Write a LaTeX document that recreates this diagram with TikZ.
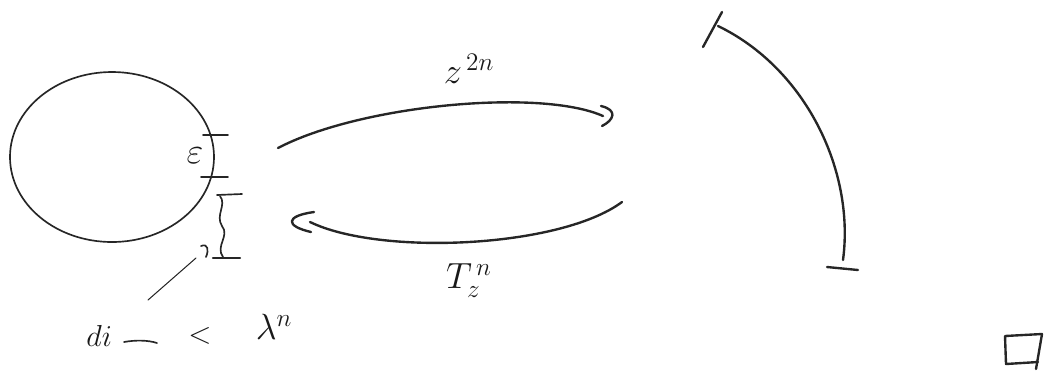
\documentclass[tikz,border=0pt]{standalone}
\begin{document}
\begin{tikzpicture}[x=0.02cm,y=-0.02cm,line cap=round,line join=round,
  pen/.style={line width=0.95pt,draw=black!85},
  thickpen/.style={line width=1.35pt,draw=black!85},
  lbl/.style={inner sep=0pt,text=black!90},
  big/.style={lbl,font=\fontsize{20.74}{25}\selectfont},
  mid/.style={lbl,font=\fontsize{17.28}{21}\selectfont}]
\useasboundingbox (0,0) rectangle (1047,370);
% blob
\draw[pen] (112,157) ellipse [x radius=102, y radius=85];
% epsilon bracket
\coordinate (e1a) at (203,135); \coordinate (e1b) at (228,135);
\coordinate (e2a) at (201,177); \coordinate (e2b) at (228,177);
\draw[pen] (e1a) -- (e1b);
\draw[pen] (e2a) -- (e2b);
\node[big] (eps) at (195,156) {$\varepsilon$};
% wavy bracket
\coordinate (w1a) at (217,195); \coordinate (w1b) at (242,194);
\coordinate (w2a) at (213,258); \coordinate (w2b) at (240,258);
\coordinate (wt) at (220,196); \coordinate (wm) at (222,226); \coordinate (wb) at (223,257);
\draw[pen] (w1a) -- (w1b);
\draw[thickpen] (w2a) -- (w2b);
\draw[pen] (wt) .. controls (227,205) and (215,215) .. (wm) .. controls (230,236) and (215,246) .. (wb);
% small mark
\coordinate (ma) at (201,246); \coordinate (mb) at (206,257);
\draw[pen] (ma) .. controls (208,243) and (209,250) .. (mb);
% leader line
\coordinate (la) at (148,300); \coordinate (lb) at (196,258);
\draw[pen,line width=0.6pt] (la) -- (lb);
% bottom formula
\node[mid,anchor=west] (di) at (86,336) {$di$};
\coordinate (da) at (124,342); \coordinate (db) at (157,343);
\draw[pen] (da) .. controls (135,340) and (148,340) .. (db);
\node[mid] (lt) at (200,336) {$<$};
\node[big] (lam) at (274,327) {$\lambda^{n}$};
% top arc with hook
\coordinate (ta) at (278,148); \coordinate (tb) at (603,116);
\draw[thickpen] (ta) .. controls (360,105) and (540,88) .. (tb);
\coordinate (ha) at (601,106); \coordinate (hb) at (602,126);
\draw[thickpen] (ha) .. controls (618,110) and (614,120) .. (hb);
\node[big] (zlab) at (469,69) {$z^{\,2n}$};
% bottom arc with hook
\coordinate (ba) at (622,202); \coordinate (bb) at (310,222);
\draw[thickpen] (ba) .. controls (560,248) and (380,256) .. (bb);
\coordinate (ga) at (314,212); \coordinate (gb) at (311,232);
\draw[thickpen] (ga) .. controls (285,216) and (285,226) .. (gb);
\node[big] (tlab) at (469,281) {$T_z^{\,n}$};
% right arc
\coordinate (ra) at (718,26); \coordinate (rb) at (843,260);
\draw[thickpen] (ra) .. controls (805,68) and (855,170) .. (rb);
\coordinate (t1a) at (703,47); \coordinate (t1b) at (722,12);
\coordinate (t2a) at (827,267); \coordinate (t2b) at (858,270);
\draw[thickpen] (t1a) -- (t1b);
\draw[thickpen] (t2a) -- (t2b);
% end box
\coordinate (q1) at (1042,334); \coordinate (q2) at (1005,336);
\coordinate (q3) at (1006,364); \coordinate (q4) at (1038,362);
\coordinate (q5) at (1036,369);
\draw[thickpen] (q1) -- (q2) -- (q3) -- (q4);
\draw[thickpen] (q1) -- (q5);
\end{tikzpicture}
\end{document}
